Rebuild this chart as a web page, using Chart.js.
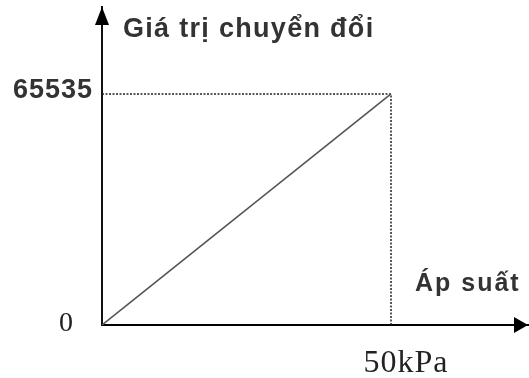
<!DOCTYPE html>
<html>
<head>
<meta charset="utf-8">
<script src="https://cdn.jsdelivr.net/npm/chart.js@4"></script>
<style>
  html, body { margin: 0; padding: 0; background: #fff; }
  #wrap { width: 529px; height: 378px; }
</style>
</head>
<body>
<div id="wrap"><canvas id="sensorChart"></canvas></div>
<script>
// du lieu doc tu hinh
const pressure = [0, 50];          // kPa
const converted = [0, 65535];      // gia tri chuyen doi
const guideX = [0, 50, 50];
const guideY = [65535, 65535, 0];
const yTickValues = [65535, 0];
const yTickLabels = ['65535', '0'];
const xTickValues = [50];
const xTickLabels = ['50kPa'];
const yTitle = 'Giá trị chuyển đổi';
const xTitle = 'Áp suất';

const xMax = 73.7;
const yMax = 90200;

function toPoints(xs, ys) {
    return xs.map((x, i) => ({ x: x, y: ys[i] }));
}

// ve mui ten + chu
const axisDecor = {
    id: 'axisDecor',
    afterDraw(chart) {
        const ctx = chart.ctx;
        const area = chart.chartArea;
        const xs = chart.scales.x;
        const ys = chart.scales.y;
        ctx.save();
        ctx.fillStyle = '#000';
        // mui ten truc y
        ctx.beginPath();
        ctx.moveTo(area.left, area.top);
        ctx.lineTo(area.left - 7, area.top + 18);
        ctx.lineTo(area.left + 7, area.top + 18);
        ctx.closePath();
        ctx.fill();
        // mui ten truc x
        ctx.beginPath();
        ctx.moveTo(area.right, area.bottom);
        ctx.lineTo(area.right - 14, area.bottom - 8);
        ctx.lineTo(area.right - 14, area.bottom + 8);
        ctx.closePath();
        ctx.fill();

        // nhan truc y
        ctx.textAlign = 'right';
        ctx.textBaseline = 'middle';
        yTickValues.forEach((v, i) => {
            const y = ys.getPixelForValue(v);
            if (v === 0) {
                ctx.font = '28px "Liberation Serif"';
                ctx.letterSpacing = '0px';
                ctx.fillStyle = '#222';
                ctx.fillText(yTickLabels[i], 73, y - 1);
            } else {
                ctx.font = 'bold 27px "Liberation Sans"';
                ctx.letterSpacing = '1px';
                ctx.fillStyle = '#333';
                ctx.fillText(yTickLabels[i], 93, y - 3);
            }
        });

        // nhan truc x
        ctx.textAlign = 'center';
        ctx.textBaseline = 'alphabetic';
        ctx.font = '32px "Liberation Serif"';
        ctx.letterSpacing = '1px';
        ctx.fillStyle = '#222';
        xTickValues.forEach((v, i) => {
            ctx.fillText(xTickLabels[i], xs.getPixelForValue(v) + 15, 372);
        });

        // tieu de truc
        ctx.textAlign = 'left';
        ctx.font = 'bold 27px "Liberation Sans"';
        ctx.letterSpacing = '1.3px';
        ctx.fillStyle = '#333';
        ctx.fillText(yTitle, 123, 37);
        ctx.font = 'bold 25px "Liberation Sans"';
        ctx.letterSpacing = '2px';
        ctx.fillText(xTitle, 415, 291);
        ctx.restore();
    }
};

const ctx = document.getElementById('sensorChart').getContext('2d');
new Chart(ctx, {
    type: 'line',
    data: {
        datasets: [{
            data: toPoints(pressure, converted),
            borderColor: '#555',
            borderWidth: 1.6,
            pointRadius: 0,
            fill: false
        }, {
            data: toPoints(guideX, guideY),
            borderColor: '#222',
            borderWidth: 1.5,
            borderDash: [2, 1.5],
            pointRadius: 0,
            fill: false
        }]
    },
    options: {
        responsive: true,
        maintainAspectRatio: false,
        animation: false,
        layout: { padding: { left: 102, right: 1, top: 7, bottom: 53 } },
        plugins: { legend: { display: false }, tooltip: { enabled: false } },
        scales: {
            x: {
                type: 'linear', min: 0, max: xMax,
                grid: { display: false, drawTicks: false },
                ticks: { display: false },
                border: { display: true, color: '#000', width: 2 }
            },
            y: {
                type: 'linear', min: 0, max: yMax,
                grid: { display: false, drawTicks: false },
                ticks: { display: false },
                border: { display: true, color: '#111', width: 2 }
            }
        }
    },
    plugins: [axisDecor]
});
</script>
</body>
</html>
